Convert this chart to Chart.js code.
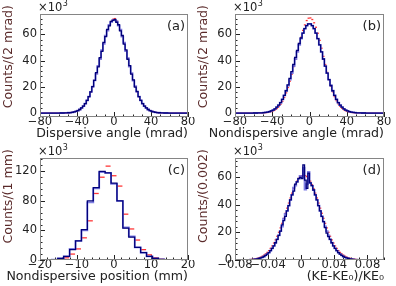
<!DOCTYPE html>
<html><head><meta charset="utf-8">
<script src="https://cdn.jsdelivr.net/npm/chart.js@4/dist/chart.umd.min.js"></script>
<style>
html,body{margin:0;padding:0;background:#fff;width:396px;height:286px;overflow:hidden}
canvas{position:absolute;left:0;top:0}
</style></head><body>
<canvas id="ca" width="396" height="286"></canvas>
<canvas id="cb" width="396" height="286"></canvas>
<canvas id="cc" width="396" height="286"></canvas>
<canvas id="cd" width="396" height="286"></canvas>
<script>
// ---------- Panel (a): dispersive angle, 2 mrad bins ----------
const aXMin = -80, aXMax = 80, aBin = 2;
const aXTicks = [-80, -40, 0, 40, 80];
const aYTicks = [0, 20, 40, 60];
const aNavy = [0,0,0,0,0,0,0,0,0,0.01, 0.02,0.03,0.05,0.09,0.14,0.23,0.37,0.57,0.87,1.3, 1.9,2.7,3.9,5.3,7.2,9.6,12.5,16.1,20.2,24.9, 30.8,35.2,42.3,47.0,53.9,58.2,63.8,66.5,69.9,70.6,
  71.4,69.2,67.3,62.6,59.1,52.6,48.1,41.0,36.2,29.7, 25.3,19.8,16.5,12.5,9.6,7.2,5.3,3.9,2.7,1.9, 1.3,0.87,0.57,0.37,0.23,0.14,0.09,0.05,0.03,0.02, 0.01,0,0,0,0,0,0,0,0,0];
const aLight = [0,0,0,0,0,0,0,0,0,0.01, 0.02,0.03,0.05,0.09,0.14,0.23,0.37,0.57,0.87,1.3, 1.9,2.7,3.9,5.3,7.2,9.6,12.5,16.1,20.2,24.9, 29.8,36.0,41.2,47.9,52.8,59.0,62.9,67.2,69.3,70.9,
  70.7,69.8,66.6,63.5,58.3,53.6,47.2,41.9,35.5,30.4, 24.7,20.5,16.1,12.5,9.6,7.2,5.3,3.9,2.7,1.9, 1.3,0.87,0.57,0.37,0.23,0.14,0.09,0.05,0.03,0.02, 0.01,0,0,0,0,0,0,0,0,0];
const aRed = [0,0,0,0,0,0,0,0,0,0.01, 0.02,0.03,0.05,0.09,0.14,0.23,0.37,0.57,0.87,1.3, 1.9,2.7,3.9,5.3,7.2,9.6,12.5,16.1,20.2,24.9, 30.1,35.7,41.6,47.5,53.2,58.6,63.2,66.9,69.8,71.5,
  72.0,70.1,67.2,63.2,58.6,53.2,47.5,41.6,35.7,30.1, 24.9,20.2,16.1,12.5,9.6,7.2,5.3,3.9,2.7,1.9, 1.3,0.87,0.57,0.37,0.23,0.14,0.09,0.05,0.03,0.02, 0.01,0,0,0,0,0,0,0,0,0];

// ---------- Panel (b): nondispersive angle, 2 mrad bins ----------
const bXMin = -80, bXMax = 80, bBin = 2;
const bXTicks = [-80, -40, 0, 40, 80];
const bYTicks = [0, 20, 40, 60];
const bNavy = [0,0,0,0,0,0,0,0, 0.01,0.02,0.03,0.05,0.08,0.13,0.21,0.33,0.5,0.76,1.12,1.62,2.3,3.25,4.47,6.05,8.0,10.5,13.5,17.0,21.5,26.5,31.6,37.0,42.4,47.8,53.0,57.2,61.0,64.3,66.7,67.9,
  67.9,66.7,64.3,61.0,56.8,52.0,46.7,41.2,35.8,30.5, 25.5,21.0,17.0,13.5,10.5,8.0,6.05,4.47,3.25,2.3, 1.62,1.12,0.76,0.5,0.33,0.21,0.13,0.08,0.05,0.03, 0.02,0.01,0,0,0,0,0,0,0,0];
const bLight = [0,0,0,0,0,0,0,0, 0.01,0.02,0.03,0.05,0.08,0.13,0.21,0.33,0.5,0.76,1.12,1.62,2.3,3.25,4.47,6.05,8.0,10.5,13.5,17.0,21.0,25.5,30.5,35.8,41.2,46.7,52.0,56.8,61.0,64.3,66.7,67.9,
  67.9,66.7,64.3,61.0,56.8,52.0,46.7,41.2,35.8,30.5, 25.5,21.0,17.0,13.5,10.5,8.0,6.05,4.47,3.25,2.3, 1.62,1.12,0.76,0.5,0.33,0.21,0.13,0.08,0.05,0.03, 0.02,0.01,0,0,0,0,0,0,0,0];
const bRed = [0,0,0,0,0,0,0,0,0,0, 0.01,0.02,0.04,0.07,0.12,0.19,0.30,0.48,0.74,1.12, 1.65,2.42,3.47,4.9,6.7,9.0,11.9,15.4,19.5,24.3, 29.6,35.4,41.2,47.0,53.0,57.8,63.0,67.2,70.5,72.3,
  72.5,71.3,68.8,65.4,60.8,55.4,49.4,43.2,37.0,31.0, 25.5,20.5,16.2,12.5,9.4,7.0,5.1,3.6,2.5,1.7, 1.15,0.76,0.49,0.31,0.19,0.12,0.07,0.04,0.02,0.01, 0,0,0,0,0,0,0,0,0,0];

// ---------- Panel (c): nondispersive position, 25 bins ----------
const cXMin = -20, cXMax = 20, cBin = 1.6;
const cXTicks = [-20, -10, 0, 10, 20];
const cYTicks = [0, 40, 80, 120];
const cNavy  = [0,0,0.5,2,5,14,26,41,80,98,120,118,104,80,43,31,17,10,5,2,0.8,0.3,0,0,0];
const cLight = [0,0,0.5,2,5,15,26,40,78,97,119,118,103,80,44,32,17,10,5,2,0.8,0.3,0,0,0];
const cRed   = [0,0,0.3,1,3,8,15,30,53,90,112,127,114,100,62,42,27,14,7,3,1,0.4,0,0,0];

// ---------- Panel (d): (KE-KE0)/KE0, 0.002 bins ----------
const dXMin = -0.08, dXMax = 0.1, dBin = 0.002;
const dXTicks = [-0.08, -0.04, 0, 0.04, 0.08];
const dYTicks = [0, 20, 40, 60];
const dNavy = [0,0,0.01,0.02,0.03,0.05,0.07,0.1,0.15,0.21, 0.3,0.42,0.59,0.81,1.09,1.47,1.95,2.55,3.3,4.24, 5.4,6.75,8.4,10.3,12.5,15.0,17.8,20.9,25.5,28.5, 31.7,35.6,39.5,43.6,47.3,50.0,55.0,56.7,59.0,60.0,
  59.0,69.0,58.0,52.0,63.0,56.0,54.0,50.8,47.3,43.6, 39.5,35.6,31.7,27.9,23.5,19.5,17.0,15.0,12.5,10.3, 8.4,6.75,5.4,4.24,3.3,2.55,1.95,1.47,1.09,0.81, 0.59,0.42,0.3,0.21,0.15,0.1,0.07,0.05,0.03,0.02, 0.01,0,0,0,0,0,0,0,0,0];
const dLight = [0,0,0.01,0.02,0.03,0.05,0.07,0.1,0.15,0.21, 0.3,0.42,0.59,0.81,1.09,1.47,1.95,2.55,3.3,4.24, 5.4,6.75,8.4,10.3,12.5,15.0,17.8,20.9,24.3,30.0, 33.5,35.6,39.5,43.6,47.3,52.5,54.0,56.7,59.0,61.0,
  60.0,67.0,51.0,55.0,64.0,56.0,54.0,50.8,47.3,43.6, 39.5,35.6,31.7,27.9,24.3,20.9,17.8,15.0,12.5,10.3, 8.4,6.75,5.4,4.24,3.3,2.55,1.95,1.47,1.09,0.81, 0.59,0.42,0.3,0.21,0.15,0.1,0.07,0.05,0.03,0.02, 0.01,0,0,0,0,0,0,0,0,0];
const dRed = [0.01,0.02,0.03,0.05,0.07,0.1,0.14,0.19,0.27,0.37, 0.51,0.69,0.92,1.23,1.6,2.1,2.7,3.5,4.4,5.5, 6.8,8.4,10.2,12.3,14.6,17.2,20.1,23.3,26.6,30.2, 33.9,37.6,41.3,45.0,48.5,51.8,54.7,57.2,59.3,60.8,
  61.2,61.5,61.2,60.5,59.3,57.2,54.7,51.8,48.5,45.0, 41.3,37.6,33.9,30.2,26.6,23.3,20.1,17.2,14.6,12.3, 10.2,8.4,6.8,5.5,4.4,3.5,2.7,2.1,1.6,1.23, 0.92,0.69,0.51,0.37,0.27,0.19,0.14,0.1,0.07,0.05, 0.03,0.02,0.01,0,0,0,0,0,0,0];

// ---------------------------------------------------------------
const FONT = 'DejaVu Sans';
const NAVY = '#00007a';
const LIGHT = 'rgba(105,105,222,0.85)';
const RED = 'rgba(255,20,20,0.85)';

function pts(start, width, vals) {
  return vals.map((v, i) => ({ x: start + width * (i + 0.5), y: v }));
}
function fmt(v, dec) {
  if (Math.abs(v) < 1e-12) return '0';
  const s = Math.abs(v).toFixed(dec);
  return (v < 0 ? '\u2212' : '') + s;
}

const decor = {
  id: 'decor',
  beforeDatasetsDraw(chart) {
    const o = chart.options.plugins.decor;
    const { ctx, chartArea: ca, scales: { x, y } } = chart;
    ctx.save();
    ctx.strokeStyle = '#222';
    ctx.lineWidth = 1;
    ctx.beginPath();
    let n = Math.round((y.max - o.yStart) / o.yMinor);
    for (let i = 0; i <= n; i++) {
      const v = o.yStart + i * o.yMinor;
      if (v > y.max) break;
      const py = Math.round(y.getPixelForValue(v)) + 0.5;
      const major = o.yTicks.some(t => Math.abs(t - v) < 1e-9);
      ctx.moveTo(ca.left, py); ctx.lineTo(ca.left + (major ? 5 : 2.5), py);
    }
    n = Math.round((x.max - x.min) / o.xMinor);
    for (let i = 0; i <= n; i++) {
      const v = x.min + i * o.xMinor;
      const px = Math.round(x.getPixelForValue(v)) + 0.5;
      const major = o.xTicks.some(t => Math.abs(t - v) < 1e-9);
      ctx.moveTo(px, ca.bottom); ctx.lineTo(px, ca.bottom - (major ? 5 : 2.5));
    }
    ctx.stroke();
    ctx.restore();
  },
  afterDraw(chart) {
    const o = chart.options.plugins.decor;
    const { ctx, chartArea: ca } = chart;
    ctx.save();
    ctx.strokeStyle = '#858585';
    ctx.lineWidth = 1;
    ctx.strokeRect(ca.left + 0.5, ca.top + 0.5, ca.right - ca.left - 1, ca.bottom - ca.top - 1);
    ctx.fillStyle = '#222';
    // x10^3
    ctx.font = '11.5px "' + FONT + '"';
    ctx.textAlign = 'left'; ctx.textBaseline = 'alphabetic';
    const base = '\u00d710';
    ctx.fillText(base, ca.left - 2, ca.top - 3);
    const w = ctx.measureText(base).width;
    ctx.font = '8px "' + FONT + '"';
    ctx.fillText('3', ca.left - 2 + w + 0.5, ca.top - 8);
    // panel label
    ctx.font = '13px "' + FONT + '"';
    ctx.textAlign = 'right'; ctx.textBaseline = 'middle';
    ctx.fillText(o.label, ca.right - 3, ca.top + 13);
    // x title
    ctx.font = '12.6px "' + FONT + '"';
    ctx.textAlign = 'right'; ctx.textBaseline = 'middle';
    ctx.fillText(o.xTitle, ca.right, ca.bottom + 17);
    // y title
    ctx.fillStyle = '#5a2a2a';
    ctx.translate(ca.left - 31.5, ca.top - 9);
    ctx.rotate(-Math.PI / 2);
    ctx.textAlign = 'right'; ctx.textBaseline = 'middle';
    ctx.fillText(o.yTitle, 0, 0);
    ctx.restore();
  }
};

function makePanel(p) {
  const [L, T, R, B] = p.area;
  const yW = 30, xH = 14;
  new Chart(document.getElementById(p.id), {
    type: 'line',
    data: {
      datasets: [
        { data: pts(p.bin[0], p.bin[1], p.navy), borderColor: NAVY, borderWidth: 1.3, stepped: 'middle', pointRadius: 0, fill: false },
        { data: pts(p.bin[0], p.bin[1], p.light), borderColor: LIGHT, borderWidth: 1.8, stepped: 'middle', pointRadius: 0, fill: false },
        { type: 'scatter', data: pts(p.bin[0], p.bin[1], p.red), showLine: false, pointStyle: 'line', pointRadius: p.redR, borderColor: RED, backgroundColor: RED, pointBorderWidth: 1.3 }
      ]
    },
    options: {
      responsive: false, animation: false, events: [],
      layout: { padding: { left: L - yW, top: T, right: 396 - R, bottom: 286 - B - xH } },
      plugins: {
        legend: { display: false }, tooltip: { enabled: false },
        decor: { yTicks: p.yTicks, xTicks: p.xTicks, yMinor: p.yMinor, xMinor: p.xMinor, yStart: 0, label: p.label, xTitle: p.xTitle, yTitle: p.yTitle }
      },
      scales: {
        x: {
          type: 'linear', min: p.xMin, max: p.xMax,
          afterBuildTicks: s => { s.ticks = p.xTicks.map(v => ({ value: v })); },
          afterFit: s => { s.height = xH; },
          grid: { display: false, drawTicks: false }, border: { display: false },
          ticks: { padding: -2, autoSkip: false, maxRotation: 0, color: '#222', font: { family: FONT, size: 11.5 }, callback: v => fmt(v, p.xDec) }
        },
        y: {
          type: 'linear', min: p.yMin, max: p.yMax,
          afterBuildTicks: s => { s.ticks = p.yTicks.map(v => ({ value: v })); },
          afterFit: s => { s.width = yW; },
          grid: { display: false, drawTicks: false }, border: { display: false },
          ticks: { padding: 3, color: '#222', font: { family: FONT, size: 11.5 }, callback: v => fmt(v, 0) }
        }
      }
    },
    plugins: [decor]
  });
}

makePanel({ id: 'ca', area: [40, 14, 188, 117], xMin: aXMin, xMax: aXMax, bin: [aXMin, aBin], xTicks: aXTicks, xMinor: 10, xDec: 0,
  yMin: -3, yMax: 75.5, yTicks: aYTicks, yMinor: 4, navy: aNavy, light: aLight, red: aRed, redR: 1,
  label: '(a)', xTitle: 'Dispersive angle (mrad)', yTitle: 'Counts/(2 mrad)' });
makePanel({ id: 'cb', area: [235, 14, 384, 117], xMin: bXMin, xMax: bXMax, bin: [bXMin, bBin], xTicks: bXTicks, xMinor: 10, xDec: 0,
  yMin: -3, yMax: 75.5, yTicks: bYTicks, yMinor: 4, navy: bNavy, light: bLight, red: bRed, redR: 1,
  label: '(b)', xTitle: 'Nondispersive angle (mrad)', yTitle: 'Counts/(2 mrad)' });
makePanel({ id: 'cc', area: [40, 158, 188, 260], xMin: cXMin, xMax: cXMax, bin: [cXMin, cBin], xTicks: cXTicks, xMinor: 2, xDec: 0,
  yMin: 0, yMax: 138, yTicks: cYTicks, yMinor: 8, navy: cNavy, light: cLight, red: cRed, redR: 2.5,
  label: '(c)', xTitle: 'Nondispersive position (mm)', yTitle: 'Counts/(1 mm)' });
makePanel({ id: 'cd', area: [235, 158, 384, 260], xMin: dXMin, xMax: dXMax, bin: [dXMin, dBin], xTicks: dXTicks, xMinor: 0.01, xDec: 2,
  yMin: 0, yMax: 74, yTicks: dYTicks, yMinor: 4, navy: dNavy, light: dLight, red: dRed, redR: 1,
  label: '(d)', xTitle: '(KE-KE\u2080)/KE\u2080', yTitle: 'Counts/(0.002)' });
</script>
</body></html>
